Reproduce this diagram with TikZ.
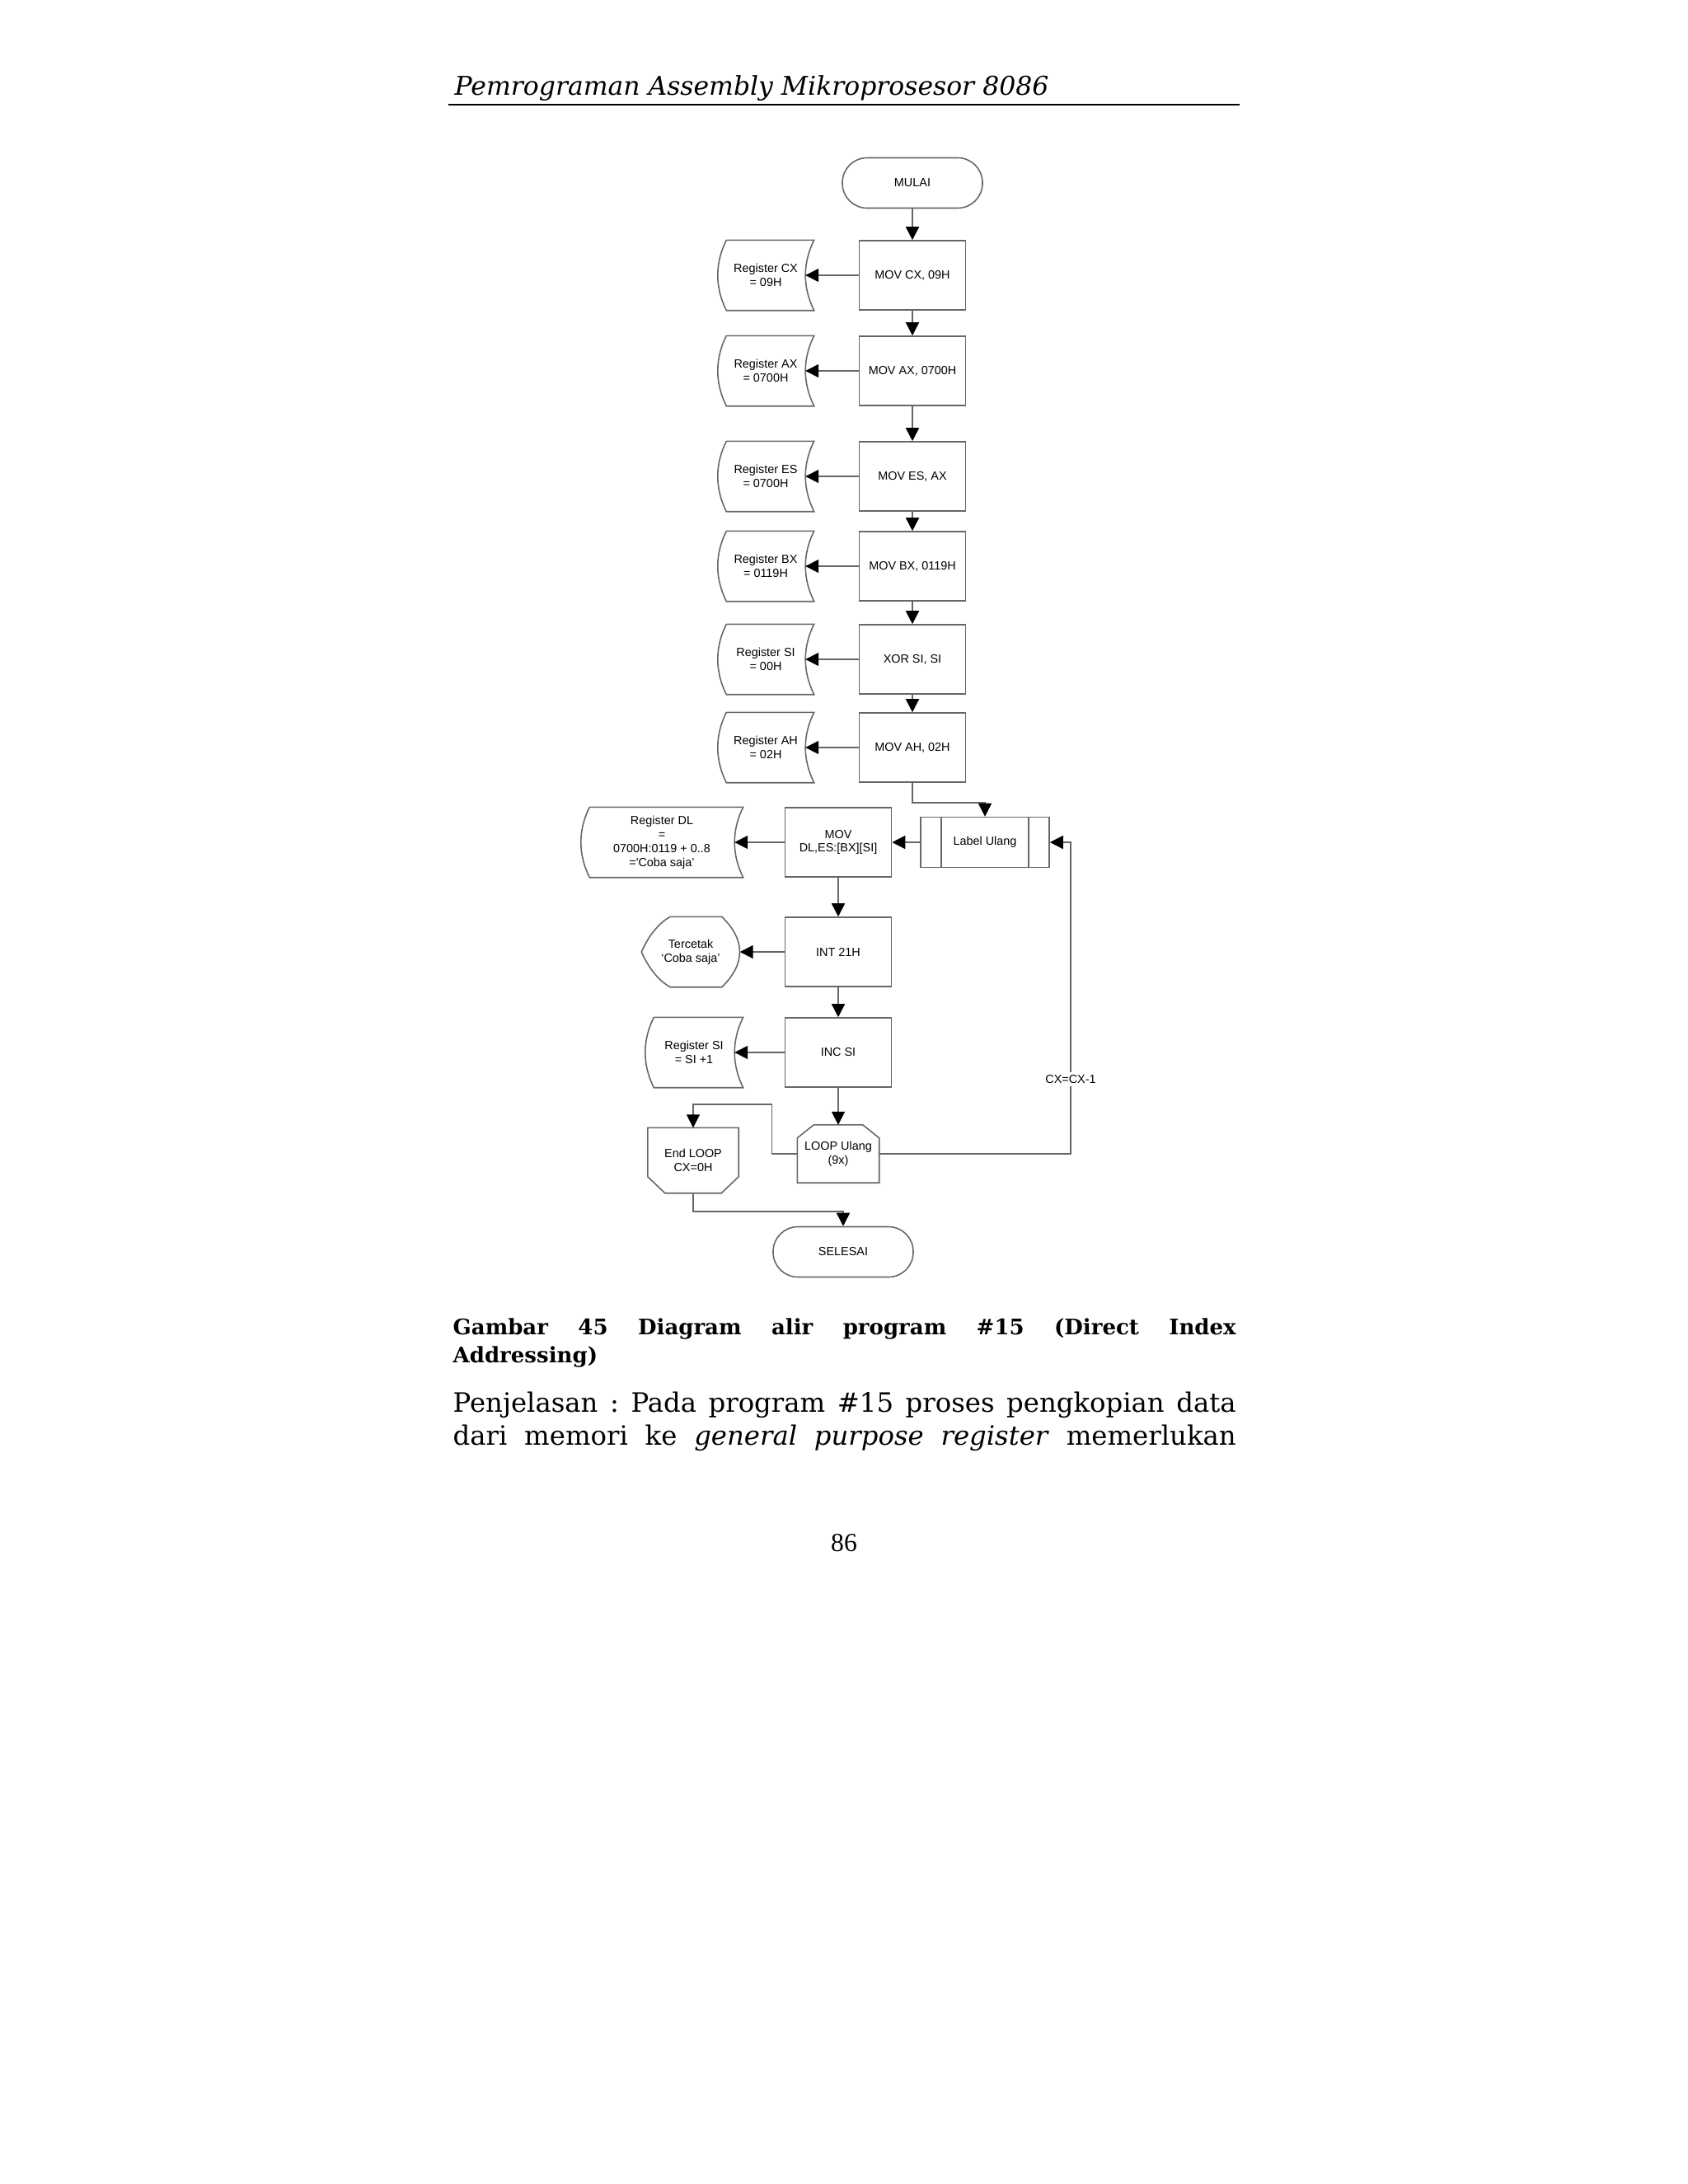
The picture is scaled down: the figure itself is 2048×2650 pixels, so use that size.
\documentclass[tikz,border=0pt]{standalone}
\usepackage{fontspec}
\setmainfont{DejaVu Serif}
\newfontfamily\chartfont{Liberation Sans}
\newfontfamily\pagefont{Liberation Serif}
\usetikzlibrary{arrows.meta,calc}
\frenchspacing

\newcommand{\chartsize}{\chartfont\fontsize{4.1pt}{4.8pt}\selectfont}

% stored data outline (register boxes)
\newcommand{\storedout}[1]{%
  \draw[outline] ($(#1.north west)+(11,0)$) -- (#1.north east)
    .. controls ($(#1.north east)+(-14,28)$) and ($(#1.south east)+(-14,-28)$) .. (#1.south east)
    -- ($(#1.south west)+(11,0)$)
    .. controls ($(#1.south west)+(-3,-28)$) and ($(#1.north west)+(-3,28)$) .. ($(#1.north west)+(11,0)$);}
% display outline
\newcommand{\displayout}[1]{%
  \draw[outline] ($(#1.north west)+(35,0)$) -- ($(#1.north east)+(-22,0)$)
    .. controls ($(#1.north east)+(7,28)$) and ($(#1.south east)+(7,-28)$) .. ($(#1.south east)+(-22,0)$)
    -- ($(#1.south west)+(35,0)$)
    .. controls ($(#1.south west)+(18,-9)$) and ($(#1.west)+(6,14)$) .. (#1.west)
    .. controls ($(#1.west)+(6,-14)$) and ($(#1.north west)+(18,9)$) .. ($(#1.north west)+(35,0)$);}
% loop limits
\newcommand{\looptopout}[1]{%
  \draw[outline] ($(#1.north west)+(20,0)$) -- ($(#1.north east)+(-20,0)$) -- ($(#1.north east)+(0,16)$)
    -- (#1.south east) -- (#1.south west) -- ($(#1.north west)+(0,16)$) -- cycle;}
\newcommand{\loopendout}[1]{%
  \draw[outline] (#1.north west) -- (#1.north east) -- ($(#1.south east)+(0,-20)$)
    -- ($(#1.south east)+(-21,0)$) -- ($(#1.south west)+(21,0)$) -- ($(#1.south west)+(0,-20)$) -- cycle;}

\begin{document}
\begin{tikzpicture}[x=0.1mm, y=-0.1mm,
    outline/.style={draw=black!60, line width=0.45pt},
    flow/.style={outline, -{Triangle[length=1.6mm, width=1.6mm, color=black, fill=black]}},
    boxtext/.style={inner sep=0pt, align=center, font=\chartsize},
    process/.style={boxtext, outline, rectangle, minimum width=12.9mm, minimum height=8.4mm},
    terminal/.style={boxtext, outline, rectangle, rounded corners=3mm, minimum width=17mm, minimum height=6.1mm},
    stored/.style={boxtext, minimum width=11.6mm, minimum height=8.4mm},
    cxlabel/.style={boxtext, fill=white, inner sep=1pt}]
  % page
  \fill[white] (0,0) rectangle (2048,2650);
  \useasboundingbox (0,0) rectangle (2048,2650);
  % header
  \node[anchor=base west, inner sep=0pt, font=\itshape\fontsize{8.95pt}{11pt}\selectfont] (header) at (551,115) {Pemrograman Assembly Mikroprosesor 8086};
  \draw[line width=0.7pt] (544,127) -- (1504,127);

  % main column
  \node[terminal] (start) at (1107,222) {MULAI};
  \node[process] (movcx) at (1107,334) {MOV CX, 09H};
  \node[process] (movax) at (1107,450) {MOV AX, 0700H};
  \node[process] (moves) at (1107,578) {MOV ES, AX};
  \node[process] (movbx) at (1107,687) {MOV BX, 0119H};
  \node[process] (xorsi) at (1107,800) {XOR SI, SI};
  \node[process] (movah) at (1107,907) {MOV AH, 02H};
  % registers
  \node[stored] (regcx) at (929,334) {Register CX\\= 09H};
  \node[stored] (regax) at (929,450) {Register AX\\= 0700H};
  \node[stored] (reges) at (929,578) {Register ES\\= 0700H};
  \node[stored] (regbx) at (929,687) {Register BX\\= 0119H};
  \node[stored] (regsi) at (929,800) {Register SI\\= 00H};
  \node[stored] (regah) at (929,907) {Register AH\\= 02H};
  \foreach \r in {regcx,regax,reges,regbx,regsi,regah}
    \storedout{\r};

  % loop body
  \node[boxtext, outline, minimum width=15.6mm, minimum height=6.1mm] (label) at (1195,1022) {Label Ulang};
  \draw[outline] ($(label.north west)+(26,0)$) -- ($(label.south west)+(26,0)$);
  \draw[outline] ($(label.north east)+(-26,0)$) -- ($(label.south east)+(-26,0)$);
  \node[process] (movdl) at (1017,1022) {MOV\\DL,ES:[BX][SI]};
  \node[process] (int) at (1017,1155) {INT 21H};
  \node[process] (incsi) at (1017,1277) {INC SI};
  \node[stored, minimum width=19.6mm] (regdl) at (803,1022) {Register DL\\=\\0700H:0119 + 0..8\\=\textquotesingle Coba saja’};
  \storedout{regdl}
  \node[stored, minimum width=11.8mm] (cetak) at (838,1155) {Tercetak\\‘Coba saja’};
  \displayout{cetak}
  \node[stored, minimum width=11.8mm] (reginc) at (842,1277) {Register SI\\= SI +1};
  \storedout{reginc}
  \node[boxtext, minimum width=9.8mm, minimum height=6.9mm] (loop) at (1017,1400) {LOOP Ulang\\(9x)};
  \looptopout{loop}
  \node[boxtext, minimum width=10.9mm, minimum height=7.8mm] (endloop) at (841,1408) {End LOOP\\CX=0H};
  \loopendout{endloop}
  \node[terminal] (finish) at (1023,1519) {SELESAI};

  % connectors
  \draw[flow] (start.south) -- (movcx.north);
  \draw[flow] (movcx.south) -- (movax.north);
  \draw[flow] (movax.south) -- (moves.north);
  \draw[flow] (moves.south) -- (movbx.north);
  \draw[flow] (movbx.south) -- (xorsi.north);
  \draw[flow] (xorsi.south) -- (movah.north);
  \draw[flow] (movcx.west) -- ([xshift=-1.05mm]regcx.east);
  \draw[flow] (movax.west) -- ([xshift=-1.05mm]regax.east);
  \draw[flow] (moves.west) -- ([xshift=-1.05mm]reges.east);
  \draw[flow] (movbx.west) -- ([xshift=-1.05mm]regbx.east);
  \draw[flow] (xorsi.west) -- ([xshift=-1.05mm]regsi.east);
  \draw[flow] (movah.west) -- ([xshift=-1.05mm]regah.east);
  \draw[flow] (movah.south) -- ++(0,24) -| (label.north);
  \draw[flow] (label.west) -- (movdl.east);
  \draw[flow] (movdl.west) -- ([xshift=-1.05mm]regdl.east);
  \draw[flow] (movdl.south) -- (int.north);
  \draw[flow] (int.west) -- (cetak.east);
  \draw[flow] (int.south) -- (incsi.north);
  \draw[flow] (incsi.west) -- ([xshift=-1.05mm]reginc.east);
  \draw[flow] (incsi.south) -- (loop.north);
  \coordinate (back) at (1299,1400);
  \draw[flow] (loop.east) -- (back) -- node[cxlabel, pos=0.24] {CX=CX-1} (back |- label.east) -- (label.east);
  \draw[flow] (loop.west) -- ++(-31,0) -- ++(0,-60) -| (endloop.north);
  \draw[flow] (endloop.south) -- ++(0,22) -| (finish.north);

  % caption and text
  \node[anchor=base west, inner sep=0pt, font=\bfseries\fontsize{7.4pt}{9pt}\selectfont] (cap1) at (549,1619)
    {\makebox[95mm][s]{Gambar 45 Diagram alir program \#15 (Direct Index}};
  \node[anchor=base west, inner sep=0pt, font=\bfseries\fontsize{7.4pt}{9pt}\selectfont] (cap2) at (549,1653) {Addressing)};
  \node[anchor=base west, inner sep=0pt, font=\fontsize{9.2pt}{11pt}\selectfont] (par1) at (549,1713)
    {\makebox[95mm][s]{Penjelasan : Pada program \#15 proses pengkopian data}};
  \node[anchor=base west, inner sep=0pt, font=\fontsize{9.2pt}{11pt}\selectfont] (par2) at (549,1753)
    {\makebox[95mm][s]{dari memori ke \textit{general purpose register} memerlukan}};
  \node[anchor=base, inner sep=0pt, font=\pagefont\fontsize{9pt}{11pt}\selectfont] (pagenum) at (1024,1882) {86};
\end{tikzpicture}
\end{document}
